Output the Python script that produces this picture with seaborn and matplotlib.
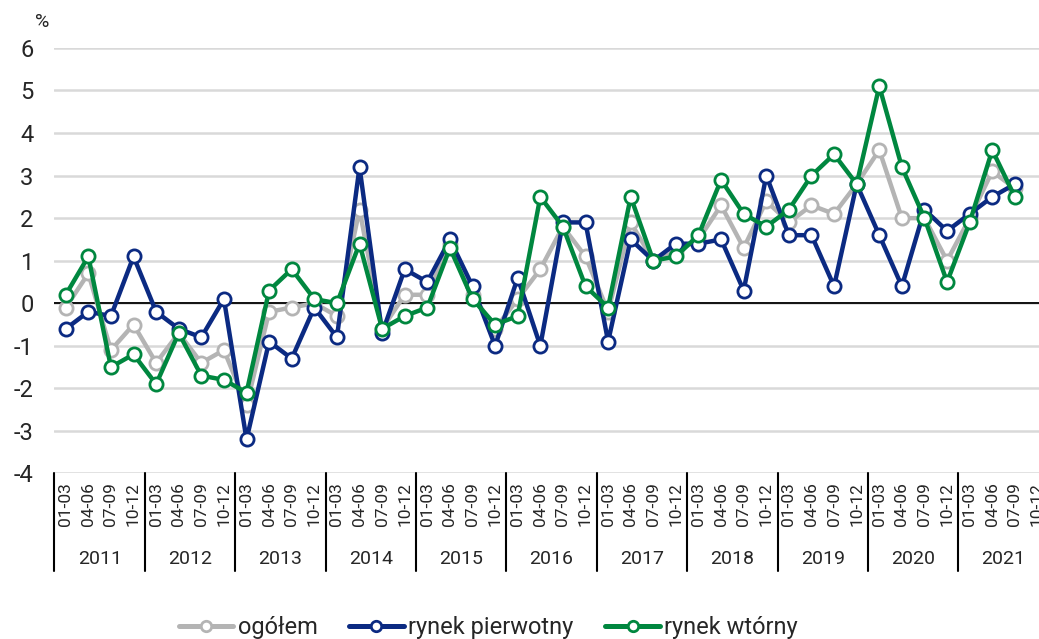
import numpy as np
import pandas as pd
import matplotlib
matplotlib.use("Agg")
import matplotlib.pyplot as plt
import matplotlib.transforms as mtransforms
from matplotlib.lines import Line2D
import seaborn as sns

# Dane: dynamika cen mieszkań, kwartał do kwartału (%)
years = [str(y) for y in range(2011, 2022)]
quarters = ["01-03", "04-06", "07-09", "10-12"]

ogolem = [-0.1, 0.7, -1.1, -0.5, -1.4, -0.7, -1.4, -1.1, -2.4, -0.2, -0.1,
          0.0, -0.3, 2.2, -0.6, 0.2, 0.2, 1.4, 0.2, -0.6, 0.1, 0.8, 1.8,
          1.1, -0.2, 1.9, 1.0, 1.2, 1.5, 2.3, 1.3, 2.4, 1.9, 2.3, 2.1, 2.8,
          3.6, 2.0, 2.0, 1.0, 2.0, 3.1, 2.7]
pierwotny = [-0.6, -0.2, -0.3, 1.1, -0.2, -0.6, -0.8, 0.1, -3.2, -0.9, -1.3,
             -0.1, -0.8, 3.2, -0.7, 0.8, 0.5, 1.5, 0.4, -1.0, 0.6, -1.0, 1.9,
             1.9, -0.9, 1.5, 1.0, 1.4, 1.4, 1.5, 0.3, 3.0, 1.6, 1.6, 0.4, 2.8,
             1.6, 0.4, 2.2, 1.7, 2.1, 2.5, 2.8]
wtorny = [0.2, 1.1, -1.5, -1.2, -1.9, -0.7, -1.7, -1.8, -2.1, 0.3, 0.8,
          0.1, 0.0, 1.4, -0.6, -0.3, -0.1, 1.3, 0.1, -0.5, -0.3, 2.5, 1.8,
          0.4, -0.1, 2.5, 1.0, 1.1, 1.6, 2.9, 2.1, 1.8, 2.2, 3.0, 3.5, 2.8,
          5.1, 3.2, 2.0, 0.5, 1.9, 3.6, 2.5]

series = {
    "ogółem": (ogolem, "#b4b4b4"),
    "rynek pierwotny": (pierwotny, "#0b2a82"),
    "rynek wtórny": (wtorny, "#00873f"),
}

sns.set_theme(style="white")
plt.rcParams["font.family"] = ["Roboto", "DejaVu Sans"]

n_cat = len(years) * len(quarters)
fig = plt.figure(figsize=(10.39, 6.39), dpi=100)
ax = fig.add_axes([0.0524, 0.259, 0.957, 0.666])

handles = []
for name, (vals, col) in series.items():
    df = pd.DataFrame({"x": np.arange(len(vals)), "val": vals})
    sns.lineplot(data=df, x="x", y="val", ax=ax, color=col, lw=3.2,
                 marker="o", ms=9.5, mfc="white", mec=col, mew=2.0,
                 zorder=3)
    # uchwyt legendy: mniejszy znacznik
    handles.append(Line2D([], [], color=col, lw=3.6, marker="o", ms=7.5,
                          mfc="white", mec=col, mew=2.0, label=name))

ax.set_xlim(-0.5, n_cat - 0.5)
ax.set_ylim(-4, 6)
ax.set_yticks(range(-4, 7))
ax.set_yticklabels([str(v) for v in range(-4, 7)], fontsize=17)
ax.yaxis.grid(True, color="#d9d9d9", lw=1.8)
ax.axhline(0, color="black", lw=1.3, zorder=2)
for s in ax.spines.values():
    s.set_visible(False)
ax.tick_params(axis="y", length=0, pad=15)
ax.set_xlabel("")
ax.set_ylabel("")

# etykiety kwartałów
ax.set_xticks(range(n_cat))
ax.set_xticklabels(quarters * len(years), rotation=90, fontsize=12.5)
ax.tick_params(axis="x", length=0, pad=6)

# separatory lat i etykiety lat
trans = mtransforms.blended_transform_factory(ax.transData, ax.transAxes)
for i, yr in enumerate(years):
    x0 = i * len(quarters) - 0.5
    ax.plot([x0, x0], [0, -0.228], color="black", lw=1.5, transform=trans,
            clip_on=False)
    ax.text(x0 + len(quarters) / 2, -0.200, yr, transform=trans,
            ha="center", va="center", fontsize=14)

fig.text(0.041, 0.966, "%", fontsize=14, ha="center", va="center")

fig.legend(handles=handles, loc="center", bbox_to_anchor=(0.47, 0.018),
           ncol=3, frameon=False, fontsize=17, handlelength=2.3,
           handletextpad=0.2, columnspacing=1.35)

fig.savefig("out.png", dpi=100)
